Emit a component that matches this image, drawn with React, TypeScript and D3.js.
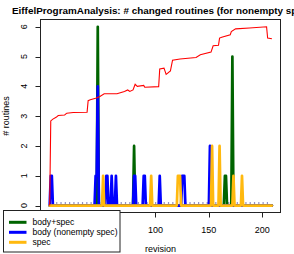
import { useEffect, useRef } from 'react';
import * as d3 from 'd3';

// revisions 1..209
const firstRevision = 1;
const lastRevision = 209;

// changed routines per revision (only non-zero revisions listed)
const bodySpecRevs = [46, 80, 165, 166, 172];
const bodySpecVals = [6, 2, 1, 1, 5];

const bodyRevs = [2, 3, 44, 45, 46, 54, 55, 59, 63, 80, 81, 89, 90, 104, 125, 126, 127, 151];
const bodyVals = [1, 1, 1, 1, 4, 1, 1, 1, 1, 1, 1, 1, 1, 1, 1, 1, 1, 2];

const specRevs = [51, 96, 121, 122, 123, 153, 160, 173, 181];
const specVals = [1, 1, 1, 1, 1, 2, 2, 1, 1];

// red curve, breakpoints
const trendRevs = [1, 2, 4, 7, 9, 15, 17, 23, 36, 37, 39, 44, 48, 52, 64, 71, 74, 76, 79, 81, 83, 89, 90, 103, 104, 108, 110, 114, 116, 123, 138, 142, 152, 154, 159, 160, 162, 170, 171, 175, 188, 204, 205, 209];
const trendVals = [0, 2.84, 2.9, 2.96, 3.02, 3.04, 3.1, 3.12, 3.13, 3.52, 3.55, 3.6, 3.66, 3.75, 3.75, 3.83, 3.88, 3.83, 3.88, 4.07, 4.0, 4.03, 3.97, 3.99, 4.58, 4.61, 4.4, 4.52, 4.88, 4.92, 4.97, 5.06, 5.15, 5.36, 5.38, 5.62, 5.65, 5.73, 5.84, 5.93, 5.96, 6.0, 5.62, 5.6];

const xTicks = [0, 50, 100, 150, 200];
const yTicks = [0, 1, 2, 3, 4, 5, 6];

const legendLabels = ['body+spec', 'body (nonempty spec)', 'spec'];
const legendColors = ['#006400', '#0000ff', '#ffb90f'];

const titleText = 'EiffelProgramAnalysis: # changed routines (for nonempty specs)';
const font = 'Liberation Sans, Arial, Helvetica, sans-serif';

const App = () => {
  const svgRef = useRef<SVGSVGElement>(null);

  useEffect(() => {
    if (!svgRef.current) return;
    const width = 294;
    const height = 254;
    const box = { left: 40.5, right: 280.5, top: 19.5, bottom: 212.5 };
    const legendBox = { x: 3.5, y: 210.5, w: 116.5, h: 41.5 };

    const svg = d3.select(svgRef.current);
    svg.selectAll('*').remove();

    // R style 4% padding on both axes
    const xPad = (lastRevision - firstRevision) * 0.04;
    const x = d3.scaleLinear()
      .domain([firstRevision - xPad, lastRevision + xPad])
      .range([box.left + 0.3, box.right + 0.3]);
    const y = d3.scaleLinear()
      .domain([-0.24, 6.24])
      .range([box.bottom + 0.2, box.top + 0.1]);

    const revisions = d3.range(firstRevision, lastRevision + 1);
    const toSeries = (revs: number[], vals: number[]) => {
      const m = new Map(revs.map((r, i) => [r, vals[i]]));
      return revisions.map(r => ({ rev: r, value: m.get(r) ?? 0 }));
    };

    const line = d3.line<{ rev: number; value: number }>()
      .x(d => x(d.rev))
      .y(d => y(d.value));

    svg.append('rect')
      .attr('width', width)
      .attr('height', height)
      .attr('fill', 'white');

    const plot = svg.append('g');

    // dotted baseline
    plot.append('line')
      .attr('x1', x(firstRevision + 2))
      .attr('x2', x(lastRevision - 1))
      .attr('y1', y(0) - 2.6)
      .attr('y2', y(0) - 2.6)
      .attr('stroke', '#22228a')
      .attr('stroke-width', 1.1)
      .attr('stroke-dasharray', '1.2,3.1');

    const series = [
      toSeries(bodySpecRevs, bodySpecVals),
      toSeries(bodyRevs, bodyVals),
      toSeries(specRevs, specVals)
    ];

    series.forEach((s, i) => {
      plot.append('path')
        .datum(s)
        .attr('d', line)
        .attr('fill', 'none')
        .attr('stroke', legendColors[i])
        .attr('stroke-width', 2.7)
        .attr('stroke-linejoin', 'round')
        .attr('stroke-linecap', 'round');
    });

    const trend = trendRevs.map((r, i) => ({ rev: r, value: trendVals[i] }));
    plot.append('path')
      .datum(trend)
      .attr('d', line)
      .attr('fill', 'none')
      .attr('stroke', '#ff0000')
      .attr('stroke-width', 1.1);

    // box
    svg.append('rect')
      .attr('x', box.left)
      .attr('y', box.top)
      .attr('width', box.right - box.left)
      .attr('height', box.bottom - box.top)
      .attr('fill', 'none')
      .attr('stroke', '#222');

    // x axis (labels under the legend are hidden in the original)
    const xa = svg.append('g');
    xTicks.forEach(t => {
      const px = Math.round(x(t)) + 0.5;
      xa.append('line')
        .attr('x1', px).attr('x2', px)
        .attr('y1', box.bottom).attr('y2', box.bottom + 5)
        .attr('stroke', '#222');
      if (x(t) - 8 > legendBox.x + legendBox.w) {
        xa.append('text')
          .attr('x', x(t))
          .attr('y', 232.5)
          .attr('text-anchor', 'middle')
          .style('font-family', font)
          .style('font-size', '9px')
          .text(t);
      }
    });

    // y axis
    const ya = svg.append('g');
    yTicks.forEach(t => {
      const py = Math.round(y(t)) + 0.5;
      ya.append('line')
        .attr('x1', box.left - 5).attr('x2', box.left)
        .attr('y1', py).attr('y2', py)
        .attr('stroke', '#222');
      ya.append('text')
        .attr('transform', `translate(27,${y(t)}) rotate(-90)`)
        .attr('text-anchor', 'middle')
        .style('font-family', font)
        .style('font-size', '9px')
        .text(t);
    });

    svg.append('text')
      .attr('transform', `translate(9,${(box.top + box.bottom) / 2}) rotate(-90)`)
      .attr('text-anchor', 'middle')
      .style('font-family', font)
      .style('font-size', '9px')
      .text('# routines');

    svg.append('text')
      .attr('x', 160.5)
      .attr('y', 252)
      .attr('text-anchor', 'middle')
      .style('font-family', font)
      .style('font-size', '9px')
      .text('revision');

    // title (runs off the right edge like the original)
    svg.append('text')
      .attr('x', 12)
      .attr('y', 14)
      .style('font-family', font)
      .style('font-size', '9.9px')
      .style('font-weight', 'bold')
      .text(titleText);

    // legend
    const lg = svg.append('g');
    lg.append('rect')
      .attr('x', legendBox.x)
      .attr('y', legendBox.y)
      .attr('width', legendBox.w)
      .attr('height', legendBox.h)
      .attr('fill', 'white')
      .attr('stroke', '#222');
    legendLabels.forEach((label, i) => {
      const cy = 222.3 + i * 10;
      lg.append('line')
        .attr('x1', 9).attr('x2', 26.5)
        .attr('y1', cy).attr('y2', cy)
        .attr('stroke', legendColors[i])
        .attr('stroke-width', 3);
      lg.append('text')
        .attr('x', 32.5)
        .attr('y', cy + 3.1)
        .style('font-family', font)
        .style('font-size', '8.6px')
        .text(label);
    });
  }, []);

  return (
    <svg ref={svgRef} width={294} height={254} style={{ position: 'absolute', left: 0, top: 0 }}></svg>
  );
};

export default App;
